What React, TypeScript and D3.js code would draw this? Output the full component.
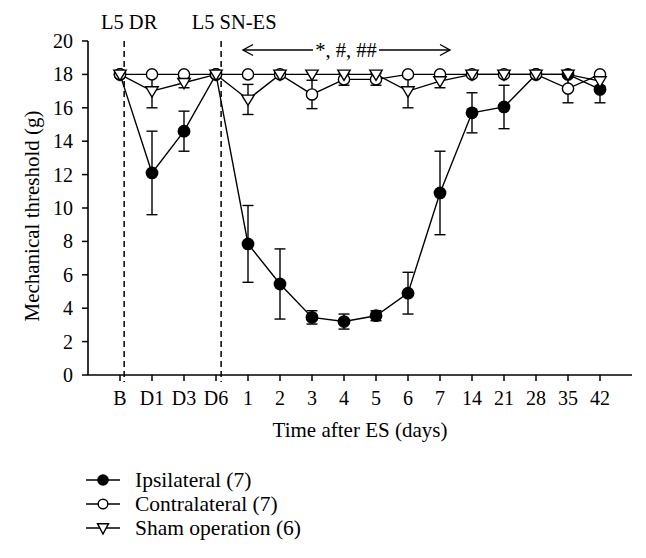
import React from "react";
import * as d3 from "d3";

const categories = ["B", "D1", "D3", "D6", "1", "2", "3", "4", "5", "6", "7", "14", "21", "28", "35", "42"];
const ipsilateral = [18, 12.1, 14.6, 18, 7.85, 5.45, 3.45, 3.2, 3.55, 4.9, 10.9, 15.7, 16.05, 18, 18, 17.1];
const ipsilateralErr = [0, 2.5, 1.2, 0, 2.3, 2.1, 0.4, 0.45, 0.3, 1.25, 2.5, 1.2, 1.3, 0, 0, 0.8];
const contralateral = [18, 18, 18, 18, 18, 18, 16.8, 17.7, 17.7, 18, 18, 18, 18, 18, 17.15, 18];
const contralateralErr = [0, 0, 0, 0, 0, 0, 0.85, 0.35, 0.35, 0, 0, 0, 0, 0, 0.85, 0];
const sham = [18, 17.0, 17.5, 18, 16.5, 18, 18, 18, 18, 17.0, 17.6, 18, 18, 18, 18, 17.6];
const shamErr = [0, 1.0, 0.3, 0, 0.9, 0, 0, 0, 0, 1.0, 0.4, 0, 0, 0, 0, 0.3];
const yTicks = [0, 2, 4, 6, 8, 10, 12, 14, 16, 18, 20];
const legendLabels = ["Ipsilateral (7)", "Contralateral (7)", "Sham operation (6)"];
const dividerLabels = ["L5 DR", "L5 SN-ES"];
const dividerAt = ["B", "D6"];
const arrowText = "*, #, ##";
const arrowFrom = "1";
const arrowTo = "7";

const FONT = "'Liberation Serif', 'Times New Roman', serif";

type Kind = "filled" | "open" | "tri";

function Marker({ kind, cx, cy, legend }: { kind: Kind; cx: number; cy: number; legend?: boolean }) {
  if (kind === "filled") return <circle cx={cx} cy={cy} r={legend ? 5.8 : 6.4} fill="#000" />;
  if (kind === "open")
    return <circle cx={cx} cy={cy} r={legend ? 4.8 : 5.6} fill="#fff" stroke="#000" strokeWidth={1.4} />;
  const w = legend ? 5.5 : 6.2;
  const p = `M${cx - w},${cy - 4.3} L${cx + w},${cy - 4.3} L${cx},${cy + 6} Z`;
  return <path d={p} fill="#fff" stroke="#000" strokeWidth={1.4} strokeLinejoin="miter" />;
}

export default function App() {
  const W = 646;
  const H = 558;
  const x = d3.scalePoint<string>().domain(categories).range([88, 632]).padding(1);
  const y = d3.scaleLinear().domain([0, 20]).range([375, 41]);
  const step = x.step();
  const X0 = 88;
  const X1 = 632;

  const series: { vals: number[]; errs: number[]; kind: Kind }[] = [
    { vals: ipsilateral, errs: ipsilateralErr, kind: "filled" },
    { vals: contralateral, errs: contralateralErr, kind: "open" },
    { vals: sham, errs: shamErr, kind: "tri" },
  ];

  const line = d3
    .line<number>()
    .x((_, i) => x(categories[i])!)
    .y((d) => y(d));

  const dividerOffsets = [0.13, 0.16];
  const labelOffsets = [5, 13];
  const arrowY = 50;
  const ax0 = x(arrowFrom)! - 5;
  const ax1 = x(arrowTo)! + 10;
  const textMid = 346;
  const textHalf = 33;

  return (
    <svg
      width={W}
      height={H}
      style={{ position: "absolute", left: 0, top: 0, background: "#fff" }}
      fontFamily={FONT}
    >
      <rect width={W} height={H} fill="#fff" />
      {dividerAt.map((c, i) => {
        const dx = x(c)! + step * dividerOffsets[i];
        return (
          <g key={c}>
            <line x1={dx} x2={dx} y1={y(20)} y2={y(0) + 7} stroke="#000" strokeWidth={1.5} strokeDasharray="6,4" />
            <text x={dx + labelOffsets[i]} y={29} fontSize={20.5} textAnchor="middle">
              {dividerLabels[i]}
            </text>
          </g>
        );
      })}
      <g stroke="#000" strokeWidth={1.4} fill="none">
        <line x1={ax0} x2={textMid - textHalf} y1={arrowY} y2={arrowY} />
        <line x1={textMid + textHalf} x2={ax1} y1={arrowY} y2={arrowY} />
        <path d={`M${ax0 + 10},${arrowY - 5.5} L${ax0},${arrowY} L${ax0 + 10},${arrowY + 5.5}`} />
        <path d={`M${ax1 - 10},${arrowY - 5.5} L${ax1},${arrowY} L${ax1 - 10},${arrowY + 5.5}`} />
      </g>
      <text x={textMid} y={57} fontSize={20.5} textAnchor="middle">
        {arrowText}
      </text>

      <line x1={X0} x2={X0} y1={y(20)} y2={y(0)} stroke="#000" strokeWidth={1.6} />
      <line x1={X0} x2={X1} y1={y(0)} y2={y(0)} stroke="#000" strokeWidth={1.6} />
      {yTicks.map((t) => (
        <g key={t}>
          <line x1={X0 - 6} x2={X0} y1={y(t)} y2={y(t)} stroke="#000" strokeWidth={1.5} />
          <text x={73} y={y(t)} dy="0.35em" fontSize={20} textAnchor="end">
            {t}
          </text>
        </g>
      ))}
      {categories.map((c) => (
        <g key={c}>
          <line x1={x(c)!} x2={x(c)!} y1={y(0)} y2={y(0) + 6} stroke="#000" strokeWidth={1.5} />
          <text x={x(c)!} y={405} fontSize={20} textAnchor="middle">
            {c}
          </text>
        </g>
      ))}
      <text x={(X0 + X1) / 2} y={437} fontSize={21} textAnchor="middle">
        Time after ES (days)
      </text>
      <text transform={`translate(39,216) rotate(-90)`} fontSize={21} textAnchor="middle">
        Mechanical threshold (g)
      </text>

      {series.map((s, si) => (
        <g key={"e" + si} stroke="#000" strokeWidth={1.4}>
          {s.vals.map((v, i) => {
            const e = s.errs[i];
            if (!e) return null;
            const cx = x(categories[i])!;
            return (
              <g key={i}>
                <line x1={cx} x2={cx} y1={y(v - e)} y2={y(v + e)} />
                <line x1={cx - 5.5} x2={cx + 5.5} y1={y(v - e)} y2={y(v - e)} />
                <line x1={cx - 5.5} x2={cx + 5.5} y1={y(v + e)} y2={y(v + e)} />
              </g>
            );
          })}
        </g>
      ))}
      {series.map((s, si) => (
        <path key={"l" + si} d={line(s.vals)!} fill="none" stroke="#000" strokeWidth={1.4} />
      ))}
      {series.map((s, si) => (
        <g key={"m" + si}>
          {s.vals.map((v, i) => (
            <Marker key={i} kind={s.kind} cx={x(categories[i])!} cy={y(v)} />
          ))}
        </g>
      ))}

      {series.map((s, i) => {
        const ly = 480 + i * 24;
        return (
          <g key={"lg" + i}>
            <line x1={86} x2={120} y1={ly} y2={ly} stroke="#000" strokeWidth={1.4} />
            <Marker kind={s.kind} cx={103} cy={ly} legend />
            <text x={135} y={ly} dy="0.33em" fontSize={21.5}>
              {legendLabels[i]}
            </text>
          </g>
        );
      })}
    </svg>
  );
}
